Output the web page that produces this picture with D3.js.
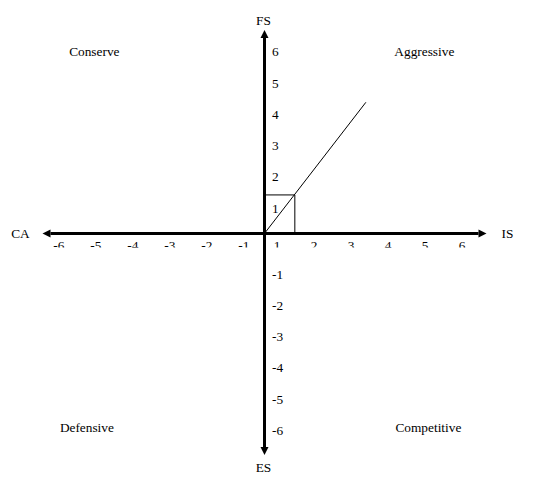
<!DOCTYPE html>
<html>
<head>
<meta charset="utf-8">
<script src="https://cdn.jsdelivr.net/npm/d3@7"></script>
<style>
  body { margin: 0; background: #fff; }
  text { font-family: "Liberation Serif", "Times New Roman", serif; font-size: 13.33px; fill: #000; }
</style>
</head>
<body>
<svg id="chart" width="533" height="489"></svg>
<script>
// SPACE matrix values
const xTicks = [-6, -5, -4, -3, -2, -1, 1, 2, 3, 4, 5, 6];
const yTicks = [6, 5, 4, 3, 2, 1, -1, -2, -3, -4, -5, -6];
const xExtent = [-6, 6];
const yExtent = [-7.08, 6.5];
const axisNames = ["CA", "IS", "FS", "ES"];   // left, right, top, bottom
const quadrants = ["Conserve", "Aggressive", "Defensive", "Competitive"];
const vectorPoint = [0.82, 1.23];
const vectorEnd = [2.74, 4.19];

const svg = d3.select("#chart");

const x = d3.scaleLinear().domain(xExtent).range([42.5, 486.5]);
const y = d3.scaleLinear().domain(yExtent).range([455, 30]);
const x0 = x(0), y0 = y(0);
const head = 8, half = 4;

// the little box round the vector point
svg.append("path")
  .attr("fill", "none")
  .attr("stroke", "#000")
  .attr("stroke-width", 1)
  .attr("d", d3.line()([[x0, y(vectorPoint[1])], [x(vectorPoint[0]), y(vectorPoint[1])], [x(vectorPoint[0]), y0]]));

// directional vector
svg.append("line")
  .attr("x1", x0).attr("y1", y0)
  .attr("x2", x(vectorEnd[0])).attr("y2", y(vectorEnd[1]))
  .attr("stroke", "#000")
  .attr("stroke-width", 1);

// axes
svg.append("line")
  .attr("x1", x(xExtent[0]) + head).attr("x2", x(xExtent[1]) - head)
  .attr("y1", y0).attr("y2", y0)
  .attr("stroke", "#000").attr("stroke-width", 3);
svg.append("line")
  .attr("x1", x0).attr("x2", x0)
  .attr("y1", y(yExtent[1]) + head).attr("y2", y(yExtent[0]) - head)
  .attr("stroke", "#000").attr("stroke-width", 3);

// arrow heads
const xl = x(xExtent[0]), xr = x(xExtent[1]), yt = y(yExtent[1]), yb = y(yExtent[0]);
const heads = [
  [[xl, y0], [xl + head, y0 - half], [xl + head, y0 + half]],
  [[xr, y0], [xr - head, y0 - half], [xr - head, y0 + half]],
  [[x0, yt], [x0 - half, yt + head], [x0 + half, yt + head]],
  [[x0, yb], [x0 - half, yb - head], [x0 + half, yb - head]]
];
svg.selectAll("path.head").data(heads).enter().append("path")
  .attr("class", "head")
  .attr("fill", "#000")
  .attr("d", d => d3.line()(d) + "Z");

// axis names
svg.append("text").attr("x", xl - 22).attr("y", y0 + 4.5).attr("text-anchor", "middle").text(axisNames[0]);
svg.append("text").attr("x", xr + 21).attr("y", y0 + 4.5).attr("text-anchor", "middle").text(axisNames[1]);
svg.append("text").attr("x", x0 - 1).attr("y", yt - 5.5).attr("text-anchor", "middle").text(axisNames[2]);
svg.append("text").attr("x", x0 - 1).attr("y", yb + 17).attr("text-anchor", "middle").text(axisNames[3]);

// x labels sit inside each unit step and are cut off at the bottom
svg.append("clipPath").attr("id", "xclip")
  .append("rect").attr("x", 0).attr("y", y0 + 3).attr("width", 533).attr("height", 11.2);
svg.append("g").attr("clip-path", "url(#xclip)")
  .selectAll("text").data(xTicks).enter().append("text")
  .attr("x", d => x(d - Math.sign(d) * 0.55) - 4)
  .attr("y", y0 + 16.5)
  .attr("text-anchor", "middle")
  .text(d => d);

// y labels
svg.selectAll("text.ytick").data(yTicks).enter().append("text")
  .attr("class", "ytick")
  .attr("x", x0 + 7.5)
  .attr("y", d => y(d) + (d > 0 ? 6.1 : 9.3) + 4.5)
  .text(d => d);

// quadrant names
const qPos = [[-4.6, 5.8], [4.32, 5.8], [-4.8, -6.19], [4.43, -6.19]];
svg.selectAll("text.quad").data(quadrants).enter().append("text")
  .attr("class", "quad")
  .attr("x", (d, i) => x(qPos[i][0]))
  .attr("y", (d, i) => y(qPos[i][1]) + 4.5)
  .attr("text-anchor", "middle")
  .text(d => d);
</script>
</body>
</html>
